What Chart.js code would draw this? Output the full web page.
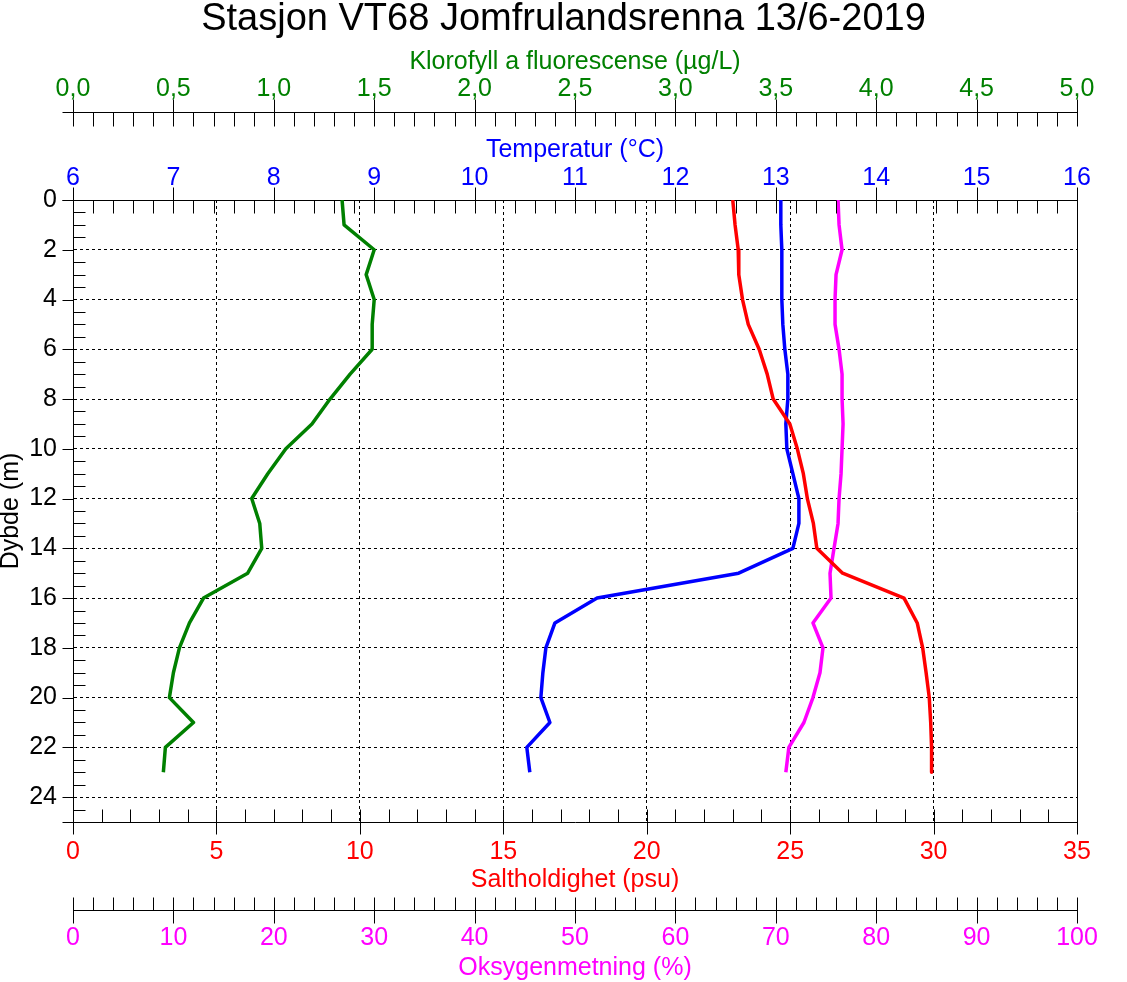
<!DOCTYPE html>
<html>
<head>
<meta charset="utf-8">
<script src="https://cdn.jsdelivr.net/npm/chart.js@4/dist/chart.umd.min.js"></script>
<style>
  html, body { margin: 0; padding: 0; background: #fff; }
  #wrap { width: 1127px; height: 982px; }
</style>
</head>
<body>
<div id="wrap"><canvas id="ctd" width="1127" height="982"></canvas></div>
<script>
// CTD profile, station VT68, 13/6-2019
const depth = [0, 1, 2, 3, 4, 5, 6, 7, 8, 9, 10, 11, 12, 13, 14, 15, 16, 17, 18, 19, 20, 21, 22, 23];
const chlorophyll = [1.34, 1.35, 1.50, 1.46, 1.50, 1.49, 1.49, 1.38, 1.28, 1.19, 1.06, 0.97, 0.89, 0.93, 0.94, 0.87, 0.65, 0.58, 0.53, 0.50, 0.48, 0.60, 0.46, 0.45];
const temperature = [13.05, 13.05, 13.06, 13.06, 13.06, 13.07, 13.09, 13.12, 13.12, 13.10, 13.11, 13.17, 13.23, 13.23, 13.17, 12.63, 11.22, 10.80, 10.71, 10.68, 10.66, 10.75, 10.52, 10.55];
const salinity = [23.00, 23.08, 23.19, 23.21, 23.34, 23.54, 23.92, 24.20, 24.41, 24.99, 25.25, 25.46, 25.60, 25.81, 25.93, 26.83, 28.97, 29.43, 29.62, 29.74, 29.85, 29.90, 29.93, 29.93];
const oxygen = [76.2, 76.3, 76.6, 76.0, 75.9, 75.9, 76.3, 76.6, 76.6, 76.7, 76.6, 76.5, 76.3, 76.2, 75.8, 75.4, 75.5, 73.7, 74.7, 74.4, 73.7, 72.8, 71.3, 71.0];

// axis ranges: [min, max, label step, minor tick step]
const chlAxis = [0, 5, 0.5, 0.1];
const tempAxis = [6, 16, 1, 0.2];
const salAxis = [0, 35, 5, 1];
const oxyAxis = [0, 100, 10, 2];
const depthAxis = [0, 25, 2, 0.5];
const depthLabelMax = 24;

const FONT = 'Arial, "Liberation Sans", sans-serif';
const GREEN = '#008000', BLUE = '#0000ff', RED = '#ff0000', MAGENTA = '#ff00ff';

function profile(values) {
    return values.map((v, i) => ({ x: v, y: depth[i] }));
}

function xAxis(range, pos, weight, color, title, height, labelPad, titlePad, fmt) {
    return {
        type: 'linear', position: pos, weight: weight,
        min: range[0], max: range[1], bounds: 'data',
        grid: { display: false, drawTicks: false },
        border: { display: true, color: '#000', width: 1 },
        ticks: {
            stepSize: range[2], color: color, padding: labelPad,
            autoSkip: false, maxRotation: 0,
            font: { family: FONT, size: 25, lineHeight: 1.2 },
            callback: fmt || (v => String(v))
        },
        title: {
            display: true, text: title, color: color,
            font: { family: FONT, size: 25, lineHeight: 1.2 },
            padding: titlePad
        },
        afterFit: s => { s.height = height; }
    };
}

// tick marks drawn along the library's scales
const axisTicks = {
    id: 'axisTicks',
    afterDraw(chart) {
        const ctx = chart.ctx;
        const sc = chart.scales;
        const px = v => Math.round(v) + 0.5;
        ctx.save();
        ctx.strokeStyle = '#000';
        ctx.lineWidth = 1;
        ctx.beginPath();

        function hTicks(scale, range, lineY, majUp, majDown, minUp, minDown) {
            const n = Math.round((range[1] - range[0]) / range[3]);
            const per = Math.round(range[2] / range[3]);
            const y = px(lineY);
            for (let i = 0; i <= n; i++) {
                const x = px(scale.getPixelForValue(range[0] + i * range[3]));
                const major = i % per === 0;
                ctx.moveTo(x, y - (major ? majUp : minUp));
                ctx.lineTo(x, y + (major ? majDown : minDown));
            }
        }
        hTicks(sc.xChl, chlAxis, sc.xChl.bottom, 13, 14, 0, 14);
        hTicks(sc.xTemp, tempAxis, sc.xTemp.bottom, 13, 13, 0, 13);
        hTicks(sc.xSal, salAxis, sc.xSal.top, 13, 12, 13, 0);
        hTicks(sc.xOxy, oxyAxis, sc.xOxy.top, 13, 13, 13, 0);

        // axis lines reach a little left of the depth axis
        const left = px(sc.y.right);
        [sc.xChl.bottom, sc.xTemp.bottom, sc.xSal.top].forEach(v => {
            ctx.moveTo(left - 11, px(v));
            ctx.lineTo(left, px(v));
        });

        // depth ticks
        const n = Math.round((depthAxis[1] - depthAxis[0]) / depthAxis[3]);
        const per = Math.round(depthAxis[2] / depthAxis[3]);
        for (let i = 0; i < n; i++) {
            const y = px(sc.y.getPixelForValue(depthAxis[0] + i * depthAxis[3]));
            if (i % per === 0) {
                ctx.moveTo(left - 11, y);
                ctx.lineTo(left, y);
            } else {
                ctx.moveTo(left, y);
                ctx.lineTo(left + 12, y);
            }
        }
        ctx.stroke();
        ctx.restore();
    }
};

new Chart(document.getElementById('ctd'), {
    type: 'line',
    data: {
        datasets: [
            { label: 'Klorofyll', data: profile(chlorophyll), xAxisID: 'xChl', yAxisID: 'y', borderColor: GREEN },
            { label: 'Saltholdighet', data: profile(salinity), xAxisID: 'xSal', yAxisID: 'y', borderColor: RED },
            { label: 'Oksygen', data: profile(oxygen), xAxisID: 'xOxy', yAxisID: 'y', borderColor: MAGENTA },
            { label: 'Temperatur', data: profile(temperature), xAxisID: 'xTemp', yAxisID: 'y', borderColor: BLUE }
        ]
    },
    options: {
        responsive: false,
        animation: false,
        indexAxis: 'y',
        layout: { padding: 0 },
        elements: {
            line: { borderWidth: 3.5, tension: 0, fill: false, borderJoinStyle: 'round' },
            point: { radius: 0, hoverRadius: 0 }
        },
        plugins: {
            legend: { display: false },
            tooltip: { enabled: false },
            title: {
                display: true,
                text: 'Stasjon VT68 Jomfrulandsrenna 13/6-2019',
                color: '#000',
                font: { family: FONT, size: 38, weight: 'normal', lineHeight: 1.05 },
                padding: { top: 0, bottom: 0 }
            }
        },
        scales: {
            xChl: xAxis(chlAxis, 'top', 2, GREEN, 'Klorofyll a fluorescense (µg/L)', 72.1, 7.5, { top: 7.6, bottom: 0 },
                v => v.toFixed(1).replace('.', ',')),
            xTemp: xAxis(tempAxis, 'top', 1, BLUE, 'Temperatur (°C)', 88, 6.5, { top: 23, bottom: 0 }),
            xSal: Object.assign(
                xAxis(salAxis, 'bottom', 1, RED, 'Saltholdighet (psu)', 88, 14.7, { top: 0, bottom: 15 }),
                { grid: { display: true, drawOnChartArea: true, drawTicks: false, color: '#000', lineWidth: 1 },
                  border: { display: true, color: '#000', width: 1, dash: [3, 3] } }),
            xOxy: xAxis(oxyAxis, 'bottom', 2, MAGENTA, 'Oksygenmetning (%)', 72, 13.5, { top: 0, bottom: -1 }),
            y: {
                type: 'linear', position: 'left', reverse: true,
                min: depthAxis[0], max: depthAxis[1], bounds: 'data',
                grid: { display: true, drawOnChartArea: true, drawTicks: false, color: '#000', lineWidth: 1 },
                border: { display: true, color: '#000', width: 1, dash: [3, 3] },
                ticks: {
                    stepSize: depthAxis[2], includeBounds: false, padding: 16, color: '#000',
                    autoSkip: false,
                    font: { family: FONT, size: 25, lineHeight: 1.2 },
                    callback: v => (v <= depthLabelMax ? String(v) : null)
                },
                title: {
                    display: true, text: 'Dybde (m)', color: '#000',
                    font: { family: FONT, size: 25, lineHeight: 1 },
                    padding: { top: -1, bottom: 0 }
                },
                afterFit: s => { s.width = 73; }
            },
            yRight: {
                type: 'linear', position: 'right', display: true,
                grid: { display: false, drawTicks: false },
                border: { display: true, color: '#000', width: 1 },
                ticks: { display: false },
                afterFit: s => { s.width = 50; }
            }
        }
    },
    plugins: [axisTicks]
});
</script>
</body>
</html>
